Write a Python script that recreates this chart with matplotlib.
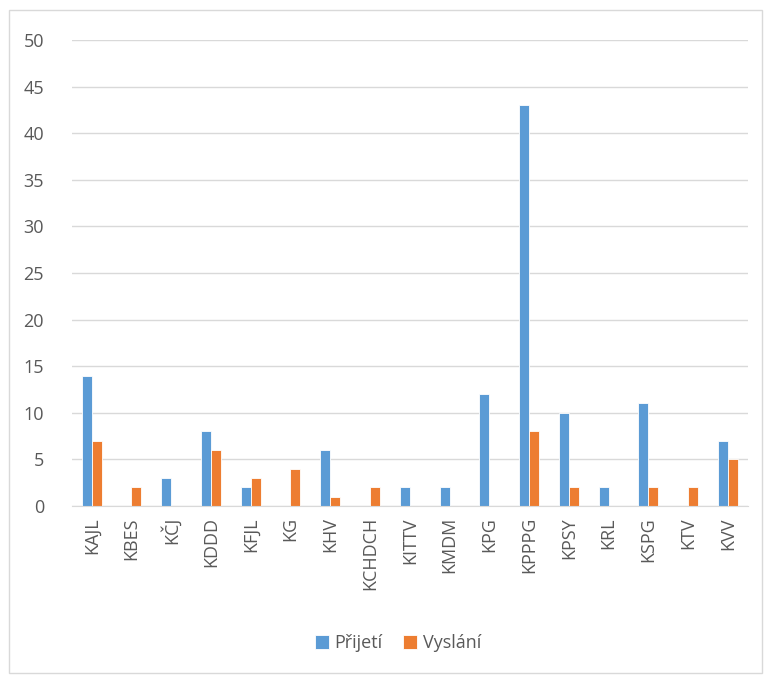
import numpy as np
import matplotlib
matplotlib.use("Agg")
import matplotlib.pyplot as plt
from matplotlib.patches import Rectangle

categories = ["KAJL", "KBES", "KČJ", "KDDD", "KFJL", "KG", "KHV", "KCHDCH", "KITTV",
              "KMDM", "KPG", "KPPPG", "KPSY", "KRL", "KSPG", "KTV", "KVV"]
prijeti = [14, 0, 3, 8, 2, 0, 6, 0, 2, 2, 12, 43, 10, 2, 11, 0, 7]
vyslani = [7, 2, 0, 6, 3, 4, 1, 2, 0, 0, 0, 8, 2, 0, 2, 2, 5]

plt.rcParams['font.family'] = ['Open Sans', 'DejaVu Sans']

fig = plt.figure(figsize=(7.71, 6.75), dpi=100)
ax = fig.add_axes([0.093, 0.2504, 0.877, 0.6903])

x = np.arange(len(categories))
w = 0.25
ax.bar(x - w / 2, prijeti, w, color='#5b9bd5', edgecolor='white', linewidth=0.6, label='Přijetí', zorder=3)
ax.bar(x + w / 2, vyslani, w, color='#ed7d31', edgecolor='white', linewidth=0.6, label='Vyslání', zorder=3)

ax.set_xlim(-0.5, len(categories) - 0.5)
ax.set_ylim(0, 50)
ax.set_yticks(np.arange(0, 51, 5))
ax.set_xticks(x)
ax.set_xticklabels(categories, rotation=90)
ax.tick_params(axis='both', length=0, labelsize=13, colors='#595959', pad=8)
ax.tick_params(axis='y', pad=20)
ax.grid(axis='y', color='#d9d9d9', linewidth=1, zorder=0)
for s in ['top', 'right', 'left']:
    ax.spines[s].set_visible(False)
ax.spines['bottom'].set_color('#d9d9d9')
ax.spines['bottom'].set_zorder(4)

fig.legend(loc='center', bbox_to_anchor=(0.516, 0.047), ncol=2, frameon=False,
           fontsize=13, labelcolor='#595959', handlelength=0.8, handleheight=0.8,
           handletextpad=0.3, columnspacing=1.1)

fig.patches.append(Rectangle((0.012, 0.003), 0.976, 0.982, transform=fig.transFigure,
                             fill=False, edgecolor='#d9d9d9', linewidth=1))

fig.savefig('out.png', dpi=100)
